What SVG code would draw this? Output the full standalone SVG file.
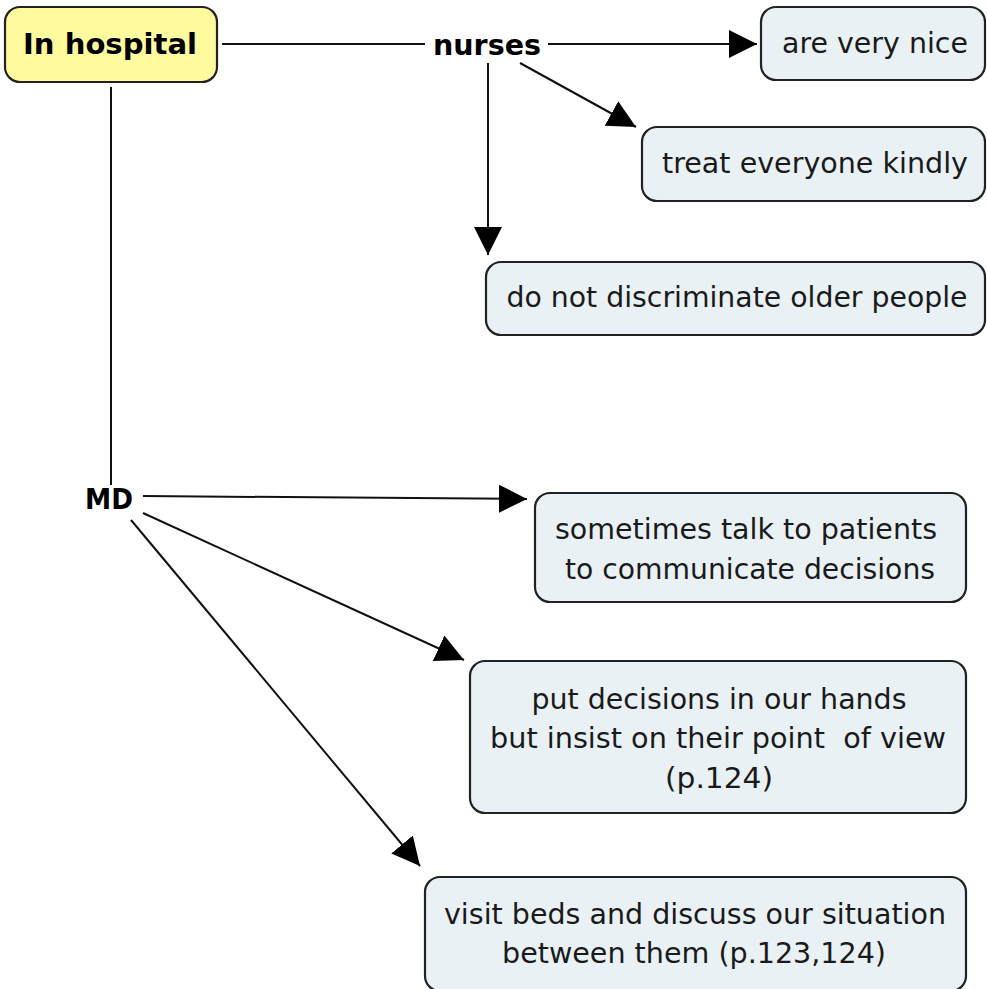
<svg xmlns="http://www.w3.org/2000/svg" width="987" height="989" viewBox="0 0 987 989">
<style>
.box{fill:#e9f1f4;stroke:#222;stroke-width:2.2}
.main{fill:#fefa9e;stroke:#222;stroke-width:2.2}
.t{font-family:"DejaVu Sans",Verdana,sans-serif;font-size:29px;fill:#1a1a1a;text-anchor:middle;white-space:pre}
.b{font-family:"DejaVu Sans",Verdana,sans-serif;font-size:29px;font-weight:bold;fill:#000;text-anchor:middle}
.c{stroke:#111;stroke-width:2;fill:none}
</style>
<defs>
<marker id="ah" markerUnits="userSpaceOnUse" markerWidth="30" markerHeight="30" viewBox="0 0 30 30" refX="28" refY="15" orient="auto">
<path d="M0,1 L28,15 L0,29 Z" fill="#000"/>
</marker>
</defs>
<g id="connectors">
<line class="c" x1="222" y1="44" x2="425" y2="44" stroke="#555"/>
<line class="c" x1="548" y1="44" x2="757" y2="44" marker-end="url(#ah)"/>
<line class="c" x1="520" y1="63" x2="636" y2="127" marker-end="url(#ah)"/>
<line class="c" x1="488" y1="63" x2="488" y2="255" marker-end="url(#ah)"/>
<line class="c" x1="111" y1="87" x2="111" y2="485"/>
<line class="c" x1="143" y1="496" x2="527" y2="499" marker-end="url(#ah)"/>
<line class="c" x1="143" y1="513" x2="464" y2="660" marker-end="url(#ah)"/>
<line class="c" x1="131" y1="520" x2="420" y2="866" marker-end="url(#ah)"/>
</g>
<g id="in-hospital">
<rect class="main" x="5" y="7" width="212" height="75" rx="15"/>
<text class="b" x="110" y="54" textLength="174" lengthAdjust="spacingAndGlyphs">In hospital</text>
</g>
<g id="nurses">
<text class="b" x="487" y="55" textLength="108" lengthAdjust="spacingAndGlyphs">nurses</text>
</g>
<g id="are-very-nice">
<rect class="box" x="761" y="7" width="224" height="73" rx="15"/>
<text class="t" x="875" y="53" textLength="186" lengthAdjust="spacingAndGlyphs">are very nice</text>
</g>
<g id="treat-everyone">
<rect class="box" x="642" y="127" width="343" height="74" rx="15"/>
<text class="t" x="815" y="173" textLength="306" lengthAdjust="spacingAndGlyphs">treat everyone kindly</text>
</g>
<g id="do-not-discriminate">
<rect class="box" x="486" y="262" width="499" height="73" rx="15"/>
<text class="t" x="737" y="307" textLength="461" lengthAdjust="spacingAndGlyphs" style="font-size:28px">do not discriminate older people</text>
</g>
<g id="md">
<text class="b" x="109" y="509" textLength="48" lengthAdjust="spacingAndGlyphs">MD</text>
</g>
<g id="sometimes-talk">
<rect class="box" x="535" y="493" width="431" height="109" rx="15"/>
<text class="t" x="746" y="539" textLength="382" lengthAdjust="spacingAndGlyphs">sometimes talk to patients</text>
<text class="t" x="750" y="579" textLength="370" lengthAdjust="spacingAndGlyphs">to communicate decisions</text>
</g>
<g id="put-decisions">
<rect class="box" x="470" y="661" width="496" height="152" rx="15"/>
<text class="t" x="719" y="709" textLength="375" lengthAdjust="spacingAndGlyphs">put decisions in our hands</text>
<text class="t" x="718" y="748" textLength="456" lengthAdjust="spacingAndGlyphs" xml:space="preserve">but insist on their point  of view</text>
<text class="t" x="719" y="788" textLength="108" lengthAdjust="spacingAndGlyphs">(p.124)</text>
</g>
<g id="visit-beds">
<rect class="box" x="425" y="877" width="541" height="114" rx="15"/>
<text class="t" x="695" y="924" textLength="502" lengthAdjust="spacingAndGlyphs">visit beds and discuss our situation</text>
<text class="t" x="694" y="963" textLength="384" lengthAdjust="spacingAndGlyphs">between them (p.123,124)</text>
</g>
</svg>
